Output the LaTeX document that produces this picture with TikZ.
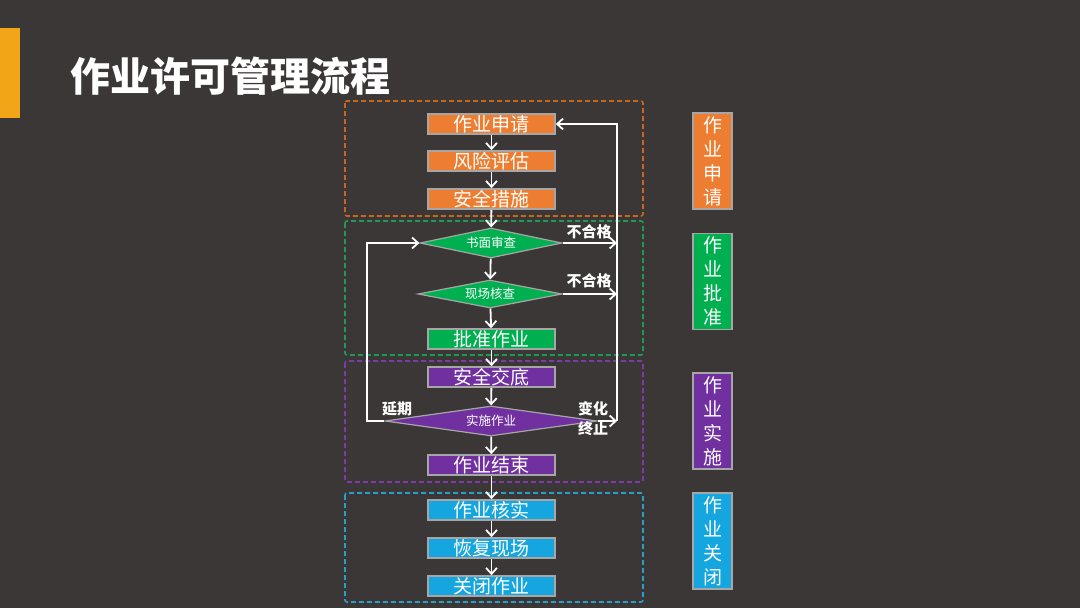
\documentclass[tikz,border=0pt]{standalone}
\usepackage{fontspec}
\newfontfamily\cjk{Noto Sans CJK SC}
\usetikzlibrary{shapes.geometric,arrows.meta}

\definecolor{bgdark}{HTML}{3A3736}
\definecolor{barorange}{HTML}{F2A516}
\definecolor{shenqing}{HTML}{ED7D31}
\definecolor{pizhun}{HTML}{00B050}
\definecolor{shishi}{HTML}{7030A0}
\definecolor{guanbi}{HTML}{16A6DF}
\definecolor{rim}{HTML}{A6A6A6}
\definecolor{frameorange}{HTML}{C8651F}
\definecolor{framegreen}{HTML}{1F9A55}
\definecolor{framepurple}{HTML}{7A3CA6}
\definecolor{frameblue}{HTML}{2A9FC9}

\tikzset{
  procbox/.style={draw=rim, line width=1.6pt, minimum width=127pt, minimum height=20pt,
    inner sep=0pt, text=white, font=\cjk\fontsize{19}{19}\selectfont},
  checkdiam/.style={diamond, draw=rim, line width=1.2pt, fill=pizhun, inner sep=0pt, aspect=5,
    text=white, font=\cjk\fontsize{12.5}{12.5}\selectfont},
  stagebox/.style={draw=rim, line width=1.6pt, minimum width=39pt, minimum height=96pt,
    inner sep=0pt, text=white, align=center, font=\cjk\fontsize{19}{24}\selectfont},
  stageframe/.style={dashed, dash pattern=on 5pt off 3pt, line width=1.6pt, rounded corners=2pt},
  flow/.style={->, white, line width=1.8pt},
  judge/.style={text=white, inner sep=0pt, font=\cjk\bfseries\fontsize{15}{15}\selectfont},
}

\begin{document}
\begin{tikzpicture}[x=1pt,y=-1pt,>={Straight Barb[length=6pt,width=11pt]}]
\useasboundingbox (0,0) rectangle (1080,608);
\fill[bgdark] (0,0) rectangle (1080,608);

% title
\fill[barorange] (0,28) rectangle (20,118);
\node[anchor=west, text=white, inner sep=0pt, font=\cjk\bfseries\fontsize{40}{40}\selectfont]
  (title) at (70,76) {作业许可管理流程};

% stage frames
\draw[stageframe, frameorange] (345,101) rectangle (643,216);
\draw[stageframe, framegreen] (345,221) rectangle (643,355);
\draw[stageframe, framepurple] (345,361) rectangle (643,482);
\draw[stageframe, frameblue] (345,493) rectangle (643,602);

% flow nodes
\node[procbox, fill=shenqing] (sq) at (491.5,124) {作业申请};
\node[procbox, fill=shenqing] (fx) at (491.5,161) {风险评估};
\node[procbox, fill=shenqing] (aq) at (491.5,199) {安全措施};
\node[checkdiam, minimum width=142pt, minimum height=30pt] (sm) at (491,243) {书面审查};
\node[checkdiam, minimum width=144pt, minimum height=28pt] (xc) at (490,294) {现场核查};
\node[procbox, fill=pizhun] (pz) at (491.5,339) {批准作业};
\node[procbox, fill=shishi] (jd) at (491.5,377) {安全交底};
\node[checkdiam, fill=shishi, minimum width=212pt, minimum height=30pt] (ss) at (491,421) {实施作业};
\node[procbox, fill=shishi] (js) at (491.5,465) {作业结束};
\node[procbox, fill=guanbi] (hs) at (491.5,510) {作业核实};
\node[procbox, fill=guanbi] (hf) at (491.5,548) {恢复现场};
\node[procbox, fill=guanbi] (gb) at (491.5,586) {关闭作业};

% main line
\draw[flow] (sq) -- (fx);
\draw[flow] (fx) -- (aq);
\draw[flow] (aq) -- (sm);
\draw[flow] (sm) -- (xc);
\draw[flow] (xc) -- (pz);
\draw[flow] (pz) -- (jd);
\draw[flow] (jd) -- (ss);
\draw[flow] (ss) -- (js);
\draw[flow] (js) -- (hs);
\draw[flow] (hs) -- (hf);
\draw[flow] (hf) -- (gb);

% loops back
\coordinate (rtop) at (617,124);
\coordinate (rbot) at (617,421);
\coordinate (lbot) at (367,421);
\draw[flow] (sm.east) -- (sm.east -| rtop);
\draw[flow] (xc.east) -- (xc.east -| rtop);
\draw[flow] (ss.east) -- (rbot);
\draw[flow] (rbot) -- (rtop) -- (sq.east);
\draw[flow] (ss.west) -- (lbot) |- (sm.west);

\node[judge] (ng1) at (589,232) {不合格};
\node[judge] (ng2) at (589,281) {不合格};
\node[judge] (yq) at (397,409) {延期};
\node[judge] (bh) at (593,409) {变化};
\node[judge] (zz) at (593,429) {终止};

% stage labels
\node[stagebox, fill=shenqing] (lb1) at (712.5,161) {作\\业\\申\\请};
\node[stagebox, fill=pizhun] (lb2) at (712.5,281.5) {作\\业\\批\\准};
\node[stagebox, fill=shishi] (lb3) at (712.5,421) {作\\业\\实\\施};
\node[stagebox, fill=guanbi] (lb4) at (712.5,541) {作\\业\\关\\闭};
\end{tikzpicture}
\end{document}
